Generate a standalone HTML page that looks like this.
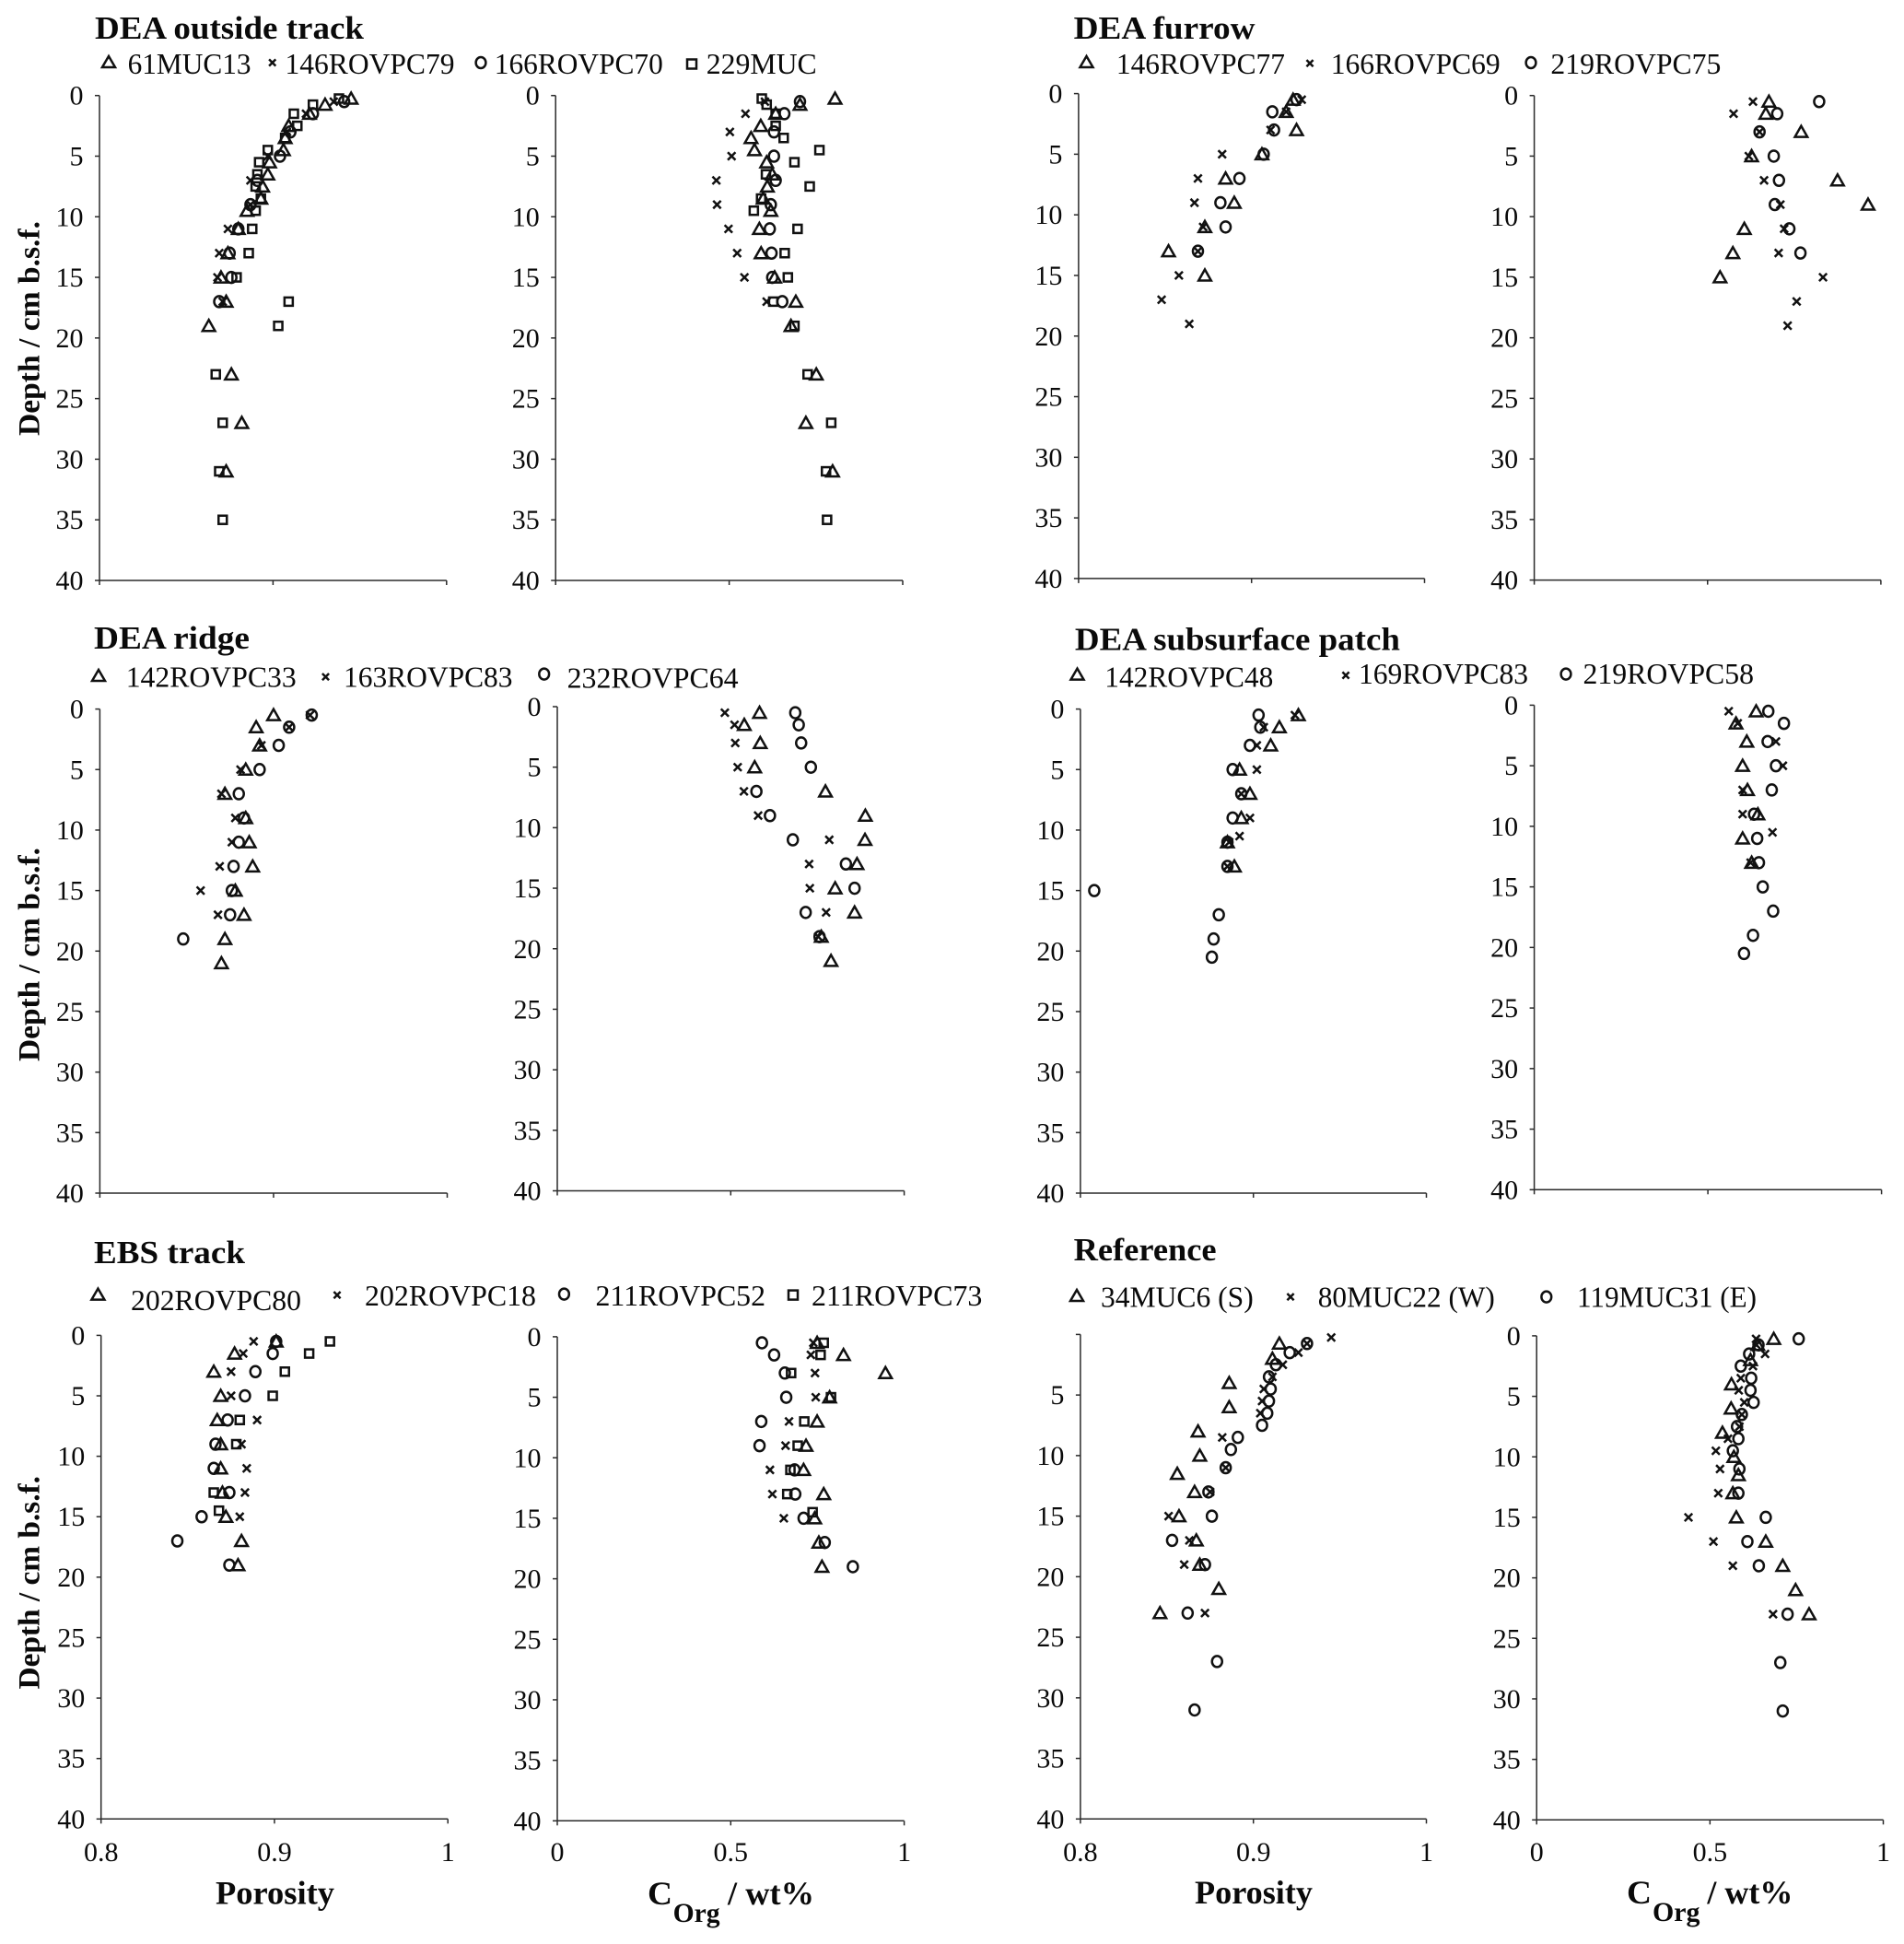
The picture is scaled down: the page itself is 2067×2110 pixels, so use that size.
<!DOCTYPE html>
<html lang="en">
<head>
<meta charset="utf-8">
<title>Porosity and organic carbon depth profiles</title>
<style>
html,body{margin:0;padding:0;background:#fff;}
svg{display:block;}
text{font-family:"Liberation Serif","DejaVu Serif",serif;fill:#0a0a0a;}
.title{font-size:35px;font-weight:bold;}
.leg{font-size:32px;}
.yt{font-size:33px;font-weight:bold;}
.xt{font-size:36px;font-weight:bold;}
.sub{font-size:30px;font-weight:bold;}
.lm{fill:none;stroke:#111;stroke-width:2.5;}
</style>
</head>
<body>
<svg id="figure" xmlns="http://www.w3.org/2000/svg" width="2067" height="2110" viewBox="0 0 2067 2110">
<rect width="2067" height="2110" fill="#fff"/>

<text class="title" x="103" y="42" textLength="292" lengthAdjust="spacingAndGlyphs">DEA outside track</text>
<path class="lm" transform="translate(118 67)" d="M-7 6L0-6L7 6Z"/>
<text class="leg" x="138.6" y="80" textLength="134" lengthAdjust="spacingAndGlyphs">61MUC13</text>
<path class="lm" transform="translate(295.7 68)" d="M-3.6-3.6L3.6 3.6M-3.6 3.6L3.6-3.6"/>
<text class="leg" x="309.5" y="80" textLength="184" lengthAdjust="spacingAndGlyphs">146ROVPC79</text>
<ellipse class="lm" cx="522" cy="68" rx="5.4" ry="6"/>
<text class="leg" x="536.8" y="80" textLength="183" lengthAdjust="spacingAndGlyphs">166ROVPC70</text>
<rect class="lm" x="746" y="64.5" width="10" height="10"/>
<text class="leg" x="766.7" y="80" textLength="120" lengthAdjust="spacingAndGlyphs">229MUC</text>

<text class="title" x="1165.6" y="42" textLength="197" lengthAdjust="spacingAndGlyphs">DEA furrow</text>
<path class="lm" transform="translate(1179.5 67)" d="M-7 6L0-6L7 6Z"/>
<text class="leg" x="1211.9" y="80" textLength="183" lengthAdjust="spacingAndGlyphs">146ROVPC77</text>
<path class="lm" transform="translate(1422 68.7)" d="M-3.6-3.6L3.6 3.6M-3.6 3.6L3.6-3.6"/>
<text class="leg" x="1444.7" y="80" textLength="184" lengthAdjust="spacingAndGlyphs">166ROVPC69</text>
<ellipse class="lm" cx="1662" cy="68" rx="5.4" ry="6"/>
<text class="leg" x="1683.4" y="80" textLength="185" lengthAdjust="spacingAndGlyphs">219ROVPC75</text>

<text class="title" x="102" y="704" textLength="169" lengthAdjust="spacingAndGlyphs">DEA ridge</text>
<path class="lm" transform="translate(107 733)" d="M-7 6L0-6L7 6Z"/>
<text class="leg" x="136.7" y="745.5" textLength="185" lengthAdjust="spacingAndGlyphs">142ROVPC33</text>
<path class="lm" transform="translate(353.5 734.6)" d="M-3.6-3.6L3.6 3.6M-3.6 3.6L3.6-3.6"/>
<text class="leg" x="373" y="745.5" textLength="183.5" lengthAdjust="spacingAndGlyphs">163ROVPC83</text>
<ellipse class="lm" cx="590.7" cy="731.6" rx="5.4" ry="6"/>
<text class="leg" x="615.6" y="746.4" textLength="186" lengthAdjust="spacingAndGlyphs">232ROVPC64</text>

<text class="title" x="1166.9" y="705.5" textLength="353" lengthAdjust="spacingAndGlyphs">DEA subsurface patch</text>
<path class="lm" transform="translate(1169.5 731.6)" d="M-7 6L0-6L7 6Z"/>
<text class="leg" x="1199.3" y="745.5" textLength="183" lengthAdjust="spacingAndGlyphs">142ROVPC48</text>
<path class="lm" transform="translate(1461 733)" d="M-3.6-3.6L3.6 3.6M-3.6 3.6L3.6-3.6"/>
<text class="leg" x="1475" y="742" textLength="184" lengthAdjust="spacingAndGlyphs">169ROVPC83</text>
<ellipse class="lm" cx="1700" cy="731.6" rx="5.4" ry="6"/>
<text class="leg" x="1718.5" y="742" textLength="185.5" lengthAdjust="spacingAndGlyphs">219ROVPC58</text>

<text class="title" x="102" y="1370.8" textLength="164" lengthAdjust="spacingAndGlyphs">EBS track</text>
<path class="lm" transform="translate(106.4 1404.6)" d="M-7 6L0-6L7 6Z"/>
<text class="leg" x="142" y="1422" textLength="185" lengthAdjust="spacingAndGlyphs">202ROVPC80</text>
<path class="lm" transform="translate(366 1405.6)" d="M-3.6-3.6L3.6 3.6M-3.6 3.6L3.6-3.6"/>
<text class="leg" x="396" y="1417" textLength="186" lengthAdjust="spacingAndGlyphs">202ROVPC18</text>
<ellipse class="lm" cx="612.4" cy="1404.6" rx="5.4" ry="6"/>
<text class="leg" x="646.5" y="1417" textLength="184.5" lengthAdjust="spacingAndGlyphs">211ROVPC52</text>
<rect class="lm" x="856" y="1400.6" width="10" height="10"/>
<text class="leg" x="881" y="1417" textLength="185.4" lengthAdjust="spacingAndGlyphs">211ROVPC73</text>

<text class="title" x="1165.6" y="1368" textLength="155" lengthAdjust="spacingAndGlyphs">Reference</text>
<path class="lm" transform="translate(1169 1406)" d="M-7 6L0-6L7 6Z"/>
<text class="leg" x="1195" y="1418.5" textLength="165.7" lengthAdjust="spacingAndGlyphs">34MUC6 (S)</text>
<path class="lm" transform="translate(1401 1407.6)" d="M-3.6-3.6L3.6 3.6M-3.6 3.6L3.6-3.6"/>
<text class="leg" x="1430.8" y="1418.5" textLength="192" lengthAdjust="spacingAndGlyphs">80MUC22 (W)</text>
<ellipse class="lm" cx="1678.8" cy="1407.6" rx="5.4" ry="6"/>
<text class="leg" x="1712" y="1418.5" textLength="195" lengthAdjust="spacingAndGlyphs">119MUC31 (E)</text>

<text class="yt" transform="translate(42.5 473) rotate(-90)" textLength="233" lengthAdjust="spacingAndGlyphs">Depth / cm b.s.f.</text>
<text class="yt" transform="translate(42.5 1152) rotate(-90)" textLength="232" lengthAdjust="spacingAndGlyphs">Depth / cm b.s.f.</text>
<text class="yt" transform="translate(42.5 1833.5) rotate(-90)" textLength="231.5" lengthAdjust="spacingAndGlyphs">Depth / cm b.s.f.</text>

<text class="xt" x="234" y="2066.7" textLength="129" lengthAdjust="spacingAndGlyphs">Porosity</text>
<text class="xt" x="703" y="2067" textLength="27" lengthAdjust="spacingAndGlyphs">C</text>
<text class="sub" x="730.6" y="2086" textLength="51" lengthAdjust="spacingAndGlyphs">Org</text>
<text class="xt" x="790" y="2067" textLength="94" lengthAdjust="spacingAndGlyphs">/ wt%</text>
<text class="xt" x="1297" y="2066" textLength="128" lengthAdjust="spacingAndGlyphs">Porosity</text>
<text class="xt" x="1766" y="2066" textLength="27" lengthAdjust="spacingAndGlyphs">C</text>
<text class="sub" x="1794" y="2085" textLength="51.5" lengthAdjust="spacingAndGlyphs">Org</text>
<text class="xt" x="1853.4" y="2066" textLength="93" lengthAdjust="spacingAndGlyphs">/ wt%</text>
</svg>

<script>
// Axis ticks and labels
const depthTicks = [0,5,10,15,20,25,30,35,40];
const depthTicksNoZero = [5,10,15,20,25,30,35,40];
const porosityTicks = [0.8,0.9,1];
const porosityTickLabels = ['0.8','0.9','1'];
const corgTicks = [0,0.5,1];
const corgTickLabels = ['0','0.5','1'];

// DEA outside track, porosity
const otp61Depth = [0.25,0.75,1.5,2.5,3.5,4.5,5.5,6.5,7.5,8.5,9.5,11,13,15,17,19,23,27,31];
const otp61Value = [.945,.930,.921,.909,.907,.906,.898,.897,.894,.893,.885,.880,.874,.870,.873,.863,.876,.882,.873];
const otp146Depth = [0.5,1.5,3,5,7,9,11,13,15,17];
const otp146Value = [.935,.919,.908,.897,.887,.887,.874,.869,.868,.871];
const otp166Depth = [0.5,1.5,3,5,7,9,11,13,15,17];
const otp166Value = [.941,.923,.910,.904,.891,.887,.880,.875,.876,.869];
const otp229Depth = [0.25,0.75,1.5,2.5,3.5,4.5,5.5,6.5,7.5,8.5,9.5,11,13,15,17,19,23,27,31,35];
const otp229Value = [.938,.923,.912,.914,.907,.897,.892,.891,.890,.893,.890,.888,.886,.879,.909,.903,.867,.871,.869,.871];
// DEA outside track, Corg
const otc61Depth = [0.25,0.75,1.5,2.5,3.5,4.5,5.5,6.5,7.5,8.5,9.5,11,13,15,17,19,23,27,31];
const otc61Value = [.805,.704,.634,.591,.563,.573,.608,.624,.610,.598,.620,.587,.592,.631,.692,.678,.751,.721,.798];
const otc146Depth = [0.5,1.5,3,5,7,9,11,13,15,17];
const otc146Value = [.603,.547,.502,.507,.463,.465,.498,.523,.544,.608];
const otc166Depth = [0.5,1.5,3,5,7,9,11,13,15,17];
const otc166Value = [.704,.659,.629,.629,.634,.620,.617,.622,.624,.653];
const otc229Depth = [0.25,0.75,1.5,2.5,3.5,4.5,5.5,6.5,7.5,8.5,9.5,11,13,15,17,19,23,27,31,35];
const otc229Value = [.594,.608,.634,.634,.657,.760,.688,.606,.732,.592,.571,.697,.660,.669,.627,.688,.726,.794,.779,.782];

// DEA furrow, porosity
const fup146Depth = [0.5,1.5,3,5,7,9,11,13,15];
const fup146Value = [.924,.920,.926,.906,.885,.890,.873,.852,.873];
const fup166Depth = [0.5,1.5,3,5,7,9,11,13,15,17,19];
const fup166Value = [.929,.920,.911,.883,.869,.867,.872,.869,.858,.848,.864];
const fup219Depth = [0.5,1.5,3,5,7,9,11,13];
const fup219Value = [.926,.912,.913,.907,.893,.882,.885,.869];
// DEA furrow, Corg
const fuc146Depth = [0.5,1.5,3,5,7,9,11,13,15];
const fuc146Value = [.677,.668,.770,.627,.875,.963,.606,.573,.536];
const fuc166Depth = [0.5,1.5,3,5,7,9,11,13,15,17,19];
const fuc166Value = [.631,.575,.650,.619,.663,.710,.721,.705,.833,.757,.731];
const fuc219Depth = [0.5,1.5,3,5,7,9,11,13];
const fuc219Value = [.822,.701,.650,.691,.706,.694,.736,.768];

// DEA ridge, porosity
const rip142Depth = [0.5,1.5,3,5,7,9,11,13,15,17,19,21];
const rip142Value = [.900,.890,.892,.884,.872,.884,.886,.888,.878,.883,.872,.870];
const rip163Depth = [0.5,1.5,3,5,7,9,11,13,15,17];
const rip163Value = [.921,.909,.893,.881,.870,.878,.876,.869,.858,.868];
const rip232Depth = [0.5,1.5,3,5,7,9,11,13,15,17,19];
const rip232Value = [.922,.909,.903,.892,.880,.883,.880,.877,.876,.875,.848];
// DEA ridge, Corg
const ric142Depth = [0.5,1.5,3,5,7,9,11,13,15,17,19,21];
const ric142Value = [.583,.539,.585,.569,.773,.888,.887,.864,.801,.857,.761,.789];
const ric163Depth = [0.5,1.5,3,5,7,9,11,13,15,17,19];
const ric163Value = [.483,.511,.513,.520,.538,.579,.784,.726,.728,.775,.752];
const ric232Depth = [0.5,1.5,3,5,7,9,11,13,15,17,19];
const ric232Value = [.686,.696,.703,.731,.574,.613,.679,.832,.857,.716,.756];

// DEA subsurface patch, porosity
const spp142Depth = [0.5,1.5,3,5,7,9,11,13];
const spp142Value = [.926,.915,.910,.892,.898,.893,.885,.889];
const spp169Depth = [0.5,1.5,3,5,7,9,10.5,11,13];
const spp169Value = [.924,.906,.902,.902,.893,.898,.892,.886,.885];
const spp219Depth = [0.5,1.5,3,5,7,9,11,13,15,17,19,20.5];
const spp219Value = [.903,.904,.898,.888,.893,.888,.885,.885,.808,.880,.877,.876];
// DEA subsurface patch, Corg
const spc142Depth = [0.5,1.5,3,5,7,9,11,13];
const spc142Value = [.639,.581,.612,.600,.614,.644,.600,.626];
const spc169Depth = [0.5,1.5,3,5,7,9,10.5,13];
const spc169Value = [.560,.586,.696,.716,.600,.600,.686,.623];
const spc219Depth = [0.5,1.5,3,5,7,9,11,13,15,17,19,20.5];
const spc219Value = [.674,.719,.672,.696,.684,.633,.642,.647,.658,.688,.630,.604];

// EBS track, porosity
const ebp80Depth = [0.5,1.5,3,5,7,9,11,13,15,17,19];
const ebp80Value = [.901,.877,.865,.869,.867,.869,.869,.870,.872,.881,.879];
const ebp18Depth = [0.5,1.5,3,5,7,9,11,13,15];
const ebp18Value = [.888,.882,.875,.875,.890,.881,.884,.883,.880];
const ebp52Depth = [0.5,1.5,3,5,7,9,11,13,15,17,19];
const ebp52Value = [.901,.899,.889,.883,.873,.866,.865,.874,.858,.844,.874];
const ebp73Depth = [0.5,1.5,3,5,7,9,13,14.5];
const ebp73Value = [.932,.920,.906,.899,.880,.878,.865,.868];
// EBS track, Corg
const ebc80Depth = [0.5,1.5,3,5,7,9,11,13,15,17,19];
const ebc80Value = [.749,.825,.946,.785,.749,.717,.710,.768,.742,.754,.763];
const ebc18Depth = [0.5,1.5,3,5,7,9,11,13,15];
const ebc18Value = [.738,.731,.743,.745,.668,.658,.613,.620,.653];
const ebc52Depth = [0.5,1.5,3,5,7,9,11,13,15,17,19];
const ebc52Value = [.590,.625,.656,.660,.588,.583,.684,.686,.710,.771,.852];
const ebc73Depth = [0.5,1.5,3,5,7,9,11,13,14.5];
const ebc73Value = [.768,.759,.674,.789,.712,.693,.672,.663,.736];

// Reference, porosity
const rfp34Depth = [0.75,2,4,6,8,10,11.5,13,15,17,19,21,23];
const rfp34Value = [.915,.911,.886,.886,.868,.869,.856,.866,.857,.867,.869,.880,.846];
const rfp80Depth = [0.25,0.75,1.5,2.5,3.5,4.5,5.5,6.5,8.5,11,13,15,17,19,23];
const rfp80Value = [.945,.931,.926,.917,.911,.906,.905,.904,.882,.884,.875,.851,.863,.860,.872];
const rfp119Depth = [0.75,1.5,2.5,3.5,4.5,5.5,6.5,7.5,8.5,9.5,11,13,15,17,19,23,27,31];
const rfp119Value = [.931,.921,.913,.909,.910,.909,.908,.905,.891,.887,.884,.874,.876,.853,.872,.862,.879,.866];
// Reference, Corg
const rfc34Depth = [0.25,0.75,2,4,6,8,10,11.5,13,15,17,19,21,23];
const rfc34Value = [.684,.638,.617,.562,.561,.536,.569,.582,.566,.576,.661,.710,.747,.786];
const rfc80Depth = [0.25,0.75,1.5,2.5,3.5,4.5,5.5,6.5,7.5,8.5,9.5,11,13,15,17,19,23];
const rfc80Value = [.633,.634,.659,.624,.589,.583,.599,.592,.585,.552,.517,.529,.524,.438,.510,.566,.682];
const rfc119Depth = [0.25,0.75,1.5,2.5,3.5,4.5,5.5,6.5,7.5,8.5,9.5,11,13,15,17,19,23,27,31];
const rfc119Value = [.756,.640,.613,.589,.619,.617,.626,.592,.578,.582,.566,.585,.582,.661,.608,.641,.724,.703,.710];

// Panel frames (layout only)
const SVGNS = 'http://www.w3.org/2000/svg';
const figure = document.getElementById('figure');
const INK = '#111';
const panels = [
 {id:'outside-track-porosity',kind:'porosity',left:108,right:484.8,top:103.7,bottom:630,xLabels:false,skipZero:false,
  series:[['tri','61muc13',otp61Depth,otp61Value],['x','146rovpc79',otp146Depth,otp146Value],['o','166rovpc70',otp166Depth,otp166Value],['sq','229muc',otp229Depth,otp229Value]]},
 {id:'outside-track-corg',kind:'corg',left:603.2,right:980,top:103.7,bottom:630,xLabels:false,skipZero:false,
  series:[['tri','61muc13',otc61Depth,otc61Value],['x','146rovpc79',otc146Depth,otc146Value],['o','166rovpc70',otc166Depth,otc166Value],['sq','229muc',otc229Depth,otc229Value]]},
 {id:'furrow-porosity',kind:'porosity',left:1170.9,right:1546.5,top:101.6,bottom:627.9,xLabels:false,skipZero:false,
  series:[['tri','146rovpc77',fup146Depth,fup146Value],['x','166rovpc69',fup166Depth,fup166Value],['o','219rovpc75',fup219Depth,fup219Value]]},
 {id:'furrow-corg',kind:'corg',left:1665.6,right:2041.9,top:103.7,bottom:629.6,xLabels:false,skipZero:false,
  series:[['tri','146rovpc77',fuc146Depth,fuc146Value],['x','166rovpc69',fuc166Depth,fuc166Value],['o','219rovpc75',fuc219Depth,fuc219Value]]},
 {id:'ridge-porosity',kind:'porosity',left:108.4,right:485.5,top:769.6,bottom:1295,xLabels:false,skipZero:false,
  series:[['tri','142rovpc33',rip142Depth,rip142Value],['x','163rovpc83',rip163Depth,rip163Value],['o','232rovpc64',rip232Depth,rip232Value]]},
 {id:'ridge-corg',kind:'corg',left:605,right:981.6,top:767,bottom:1292.5,xLabels:false,skipZero:false,
  series:[['tri','142rovpc33',ric142Depth,ric142Value],['x','163rovpc83',ric163Depth,ric163Value],['o','232rovpc64',ric232Depth,ric232Value]]},
 {id:'subsurface-patch-porosity',kind:'porosity',left:1172.9,right:1548.5,top:769.6,bottom:1295,xLabels:false,skipZero:false,
  series:[['tri','142rovpc48',spp142Depth,spp142Value],['x','169rovpc83',spp169Depth,spp169Value],['o','219rovpc58',spp219Depth,spp219Value]]},
 {id:'subsurface-patch-corg',kind:'corg',left:1665.6,right:2042.6,top:765.4,bottom:1291.3,xLabels:false,skipZero:false,
  series:[['tri','142rovpc48',spc142Depth,spc142Value],['x','169rovpc83',spc169Depth,spc169Value],['o','219rovpc58',spc219Depth,spc219Value]]},
 {id:'ebs-track-porosity',kind:'porosity',left:109.7,right:486.2,top:1449.4,bottom:1974.3,xLabels:true,skipZero:false,
  series:[['tri','202rovpc80',ebp80Depth,ebp80Value],['x','202rovpc18',ebp18Depth,ebp18Value],['o','211rovpc52',ebp52Depth,ebp52Value],['sq','211rovpc73',ebp73Depth,ebp73Value]]},
 {id:'ebs-track-corg',kind:'corg',left:605,right:981.6,top:1450.9,bottom:1976.3,xLabels:true,skipZero:false,
  series:[['tri','202rovpc80',ebc80Depth,ebc80Value],['x','202rovpc18',ebc18Depth,ebc18Value],['o','211rovpc52',ebc52Depth,ebc52Value],['sq','211rovpc73',ebc73Depth,ebc73Value]]},
 {id:'reference-porosity',kind:'porosity',left:1172.9,right:1548.5,top:1448.4,bottom:1974.3,xLabels:true,skipZero:true,
  series:[['tri','34muc6',rfp34Depth,rfp34Value],['x','80muc22',rfp80Depth,rfp80Value],['o','119muc31',rfp119Depth,rfp119Value]]},
 {id:'reference-corg',kind:'corg',left:1668.2,right:2044.5,top:1449.9,bottom:1975.3,xLabels:true,skipZero:false,
  series:[['tri','34muc6',rfc34Depth,rfc34Value],['x','80muc22',rfc80Depth,rfc80Value],['o','119muc31',rfc119Depth,rfc119Value]]}
];

function makeEl(tag){ return document.createElementNS(SVGNS, tag); }

function drawAxisLine(group, d){
  const axisPath = makeEl('path');
  
  
  axisPath.setAttribute('d', d);
  axisPath.setAttribute('fill', 'none');
  axisPath.setAttribute('stroke', '#2a2a2a');
  axisPath.setAttribute('stroke-width', '1.5');
  group.appendChild(axisPath);
}

function drawTickLabel(group, x, y, anchor, str){
  const label = makeEl('text');
  
  
  label.setAttribute('x', x);
  label.setAttribute('y', y);
  label.setAttribute('text-anchor', anchor);
  label.setAttribute('font-size', '30');
  label.textContent = str;
  group.appendChild(label);
}

function drawMarker(group, shape, name, px, py){
  let mark;
  if (shape === 'o') {
    mark = makeEl('ellipse');
    mark.setAttribute('cx', px);
    mark.setAttribute('cy', py);
    mark.setAttribute('rx', 5.5);
    mark.setAttribute('ry', 6);
  } else if (shape === 'sq') {
    mark = makeEl('rect');
    mark.setAttribute('x', px - 4.5);
    mark.setAttribute('y', py - 4.5);
    mark.setAttribute('width', 9);
    mark.setAttribute('height', 9);
  } else if (shape === 'tri') {
    mark = makeEl('path');
    mark.setAttribute('d', 'M' + (px - 6.8) + ' ' + (py + 5.5) + 'L' + px + ' ' + (py - 6.5) + 'L' + (px + 6.8) + ' ' + (py + 5.5) + 'Z');
  } else {
    mark = makeEl('path');
    mark.setAttribute('d', 'M' + (px - 4.2) + ' ' + (py - 4.2) + 'L' + (px + 4.2) + ' ' + (py + 4.2) + 'M' + (px - 4.2) + ' ' + (py + 4.2) + 'L' + (px + 4.2) + ' ' + (py - 4.2));
  }
  
  
  mark.setAttribute('fill', 'none');
  mark.setAttribute('stroke', INK);
  mark.setAttribute('stroke-width', '2.5');
  group.appendChild(mark);
}

panels.forEach(function(p){
  const isPorosity = p.kind === 'porosity';
  const xMin = isPorosity ? 0.8 : 0;
  const xMax = 1;
  const xScale = function(v){ return p.left + (v - xMin) / (xMax - xMin) * (p.right - p.left); };
  const yScale = function(d){ return p.top + d / 40 * (p.bottom - p.top); };

  const panelGroup = makeEl('g');
  
  
  figure.appendChild(panelGroup);

  drawAxisLine(panelGroup, 'M' + p.left + ' ' + p.top + 'V' + p.bottom + 'H' + p.right);
  depthTicks.forEach(function(t){
    drawAxisLine(panelGroup, 'M' + (p.left - 5) + ' ' + yScale(t) + 'H' + p.left);
  });
  const xTicks = isPorosity ? porosityTicks : corgTicks;
  const xTickLabels = isPorosity ? porosityTickLabels : corgTickLabels;
  xTicks.forEach(function(t, i){
    drawAxisLine(panelGroup, 'M' + xScale(t) + ' ' + p.bottom + 'v5');
    if (p.xLabels) drawTickLabel(panelGroup, xScale(t), 2020, 'middle', xTickLabels[i]);
  });
  (p.skipZero ? depthTicksNoZero : depthTicks).forEach(function(t){
    drawTickLabel(panelGroup, p.left - 17.5, yScale(t) + 10, 'end', String(t));
  });

  p.series.forEach(function(s){
    const seriesGroup = makeEl('g');
    
    
    panelGroup.appendChild(seriesGroup);
    s[2].forEach(function(depth, i){
      drawMarker(seriesGroup, s[0], s[1], xScale(s[3][i]), yScale(depth));
    });
  });
});
</script>
</body>
</html>
